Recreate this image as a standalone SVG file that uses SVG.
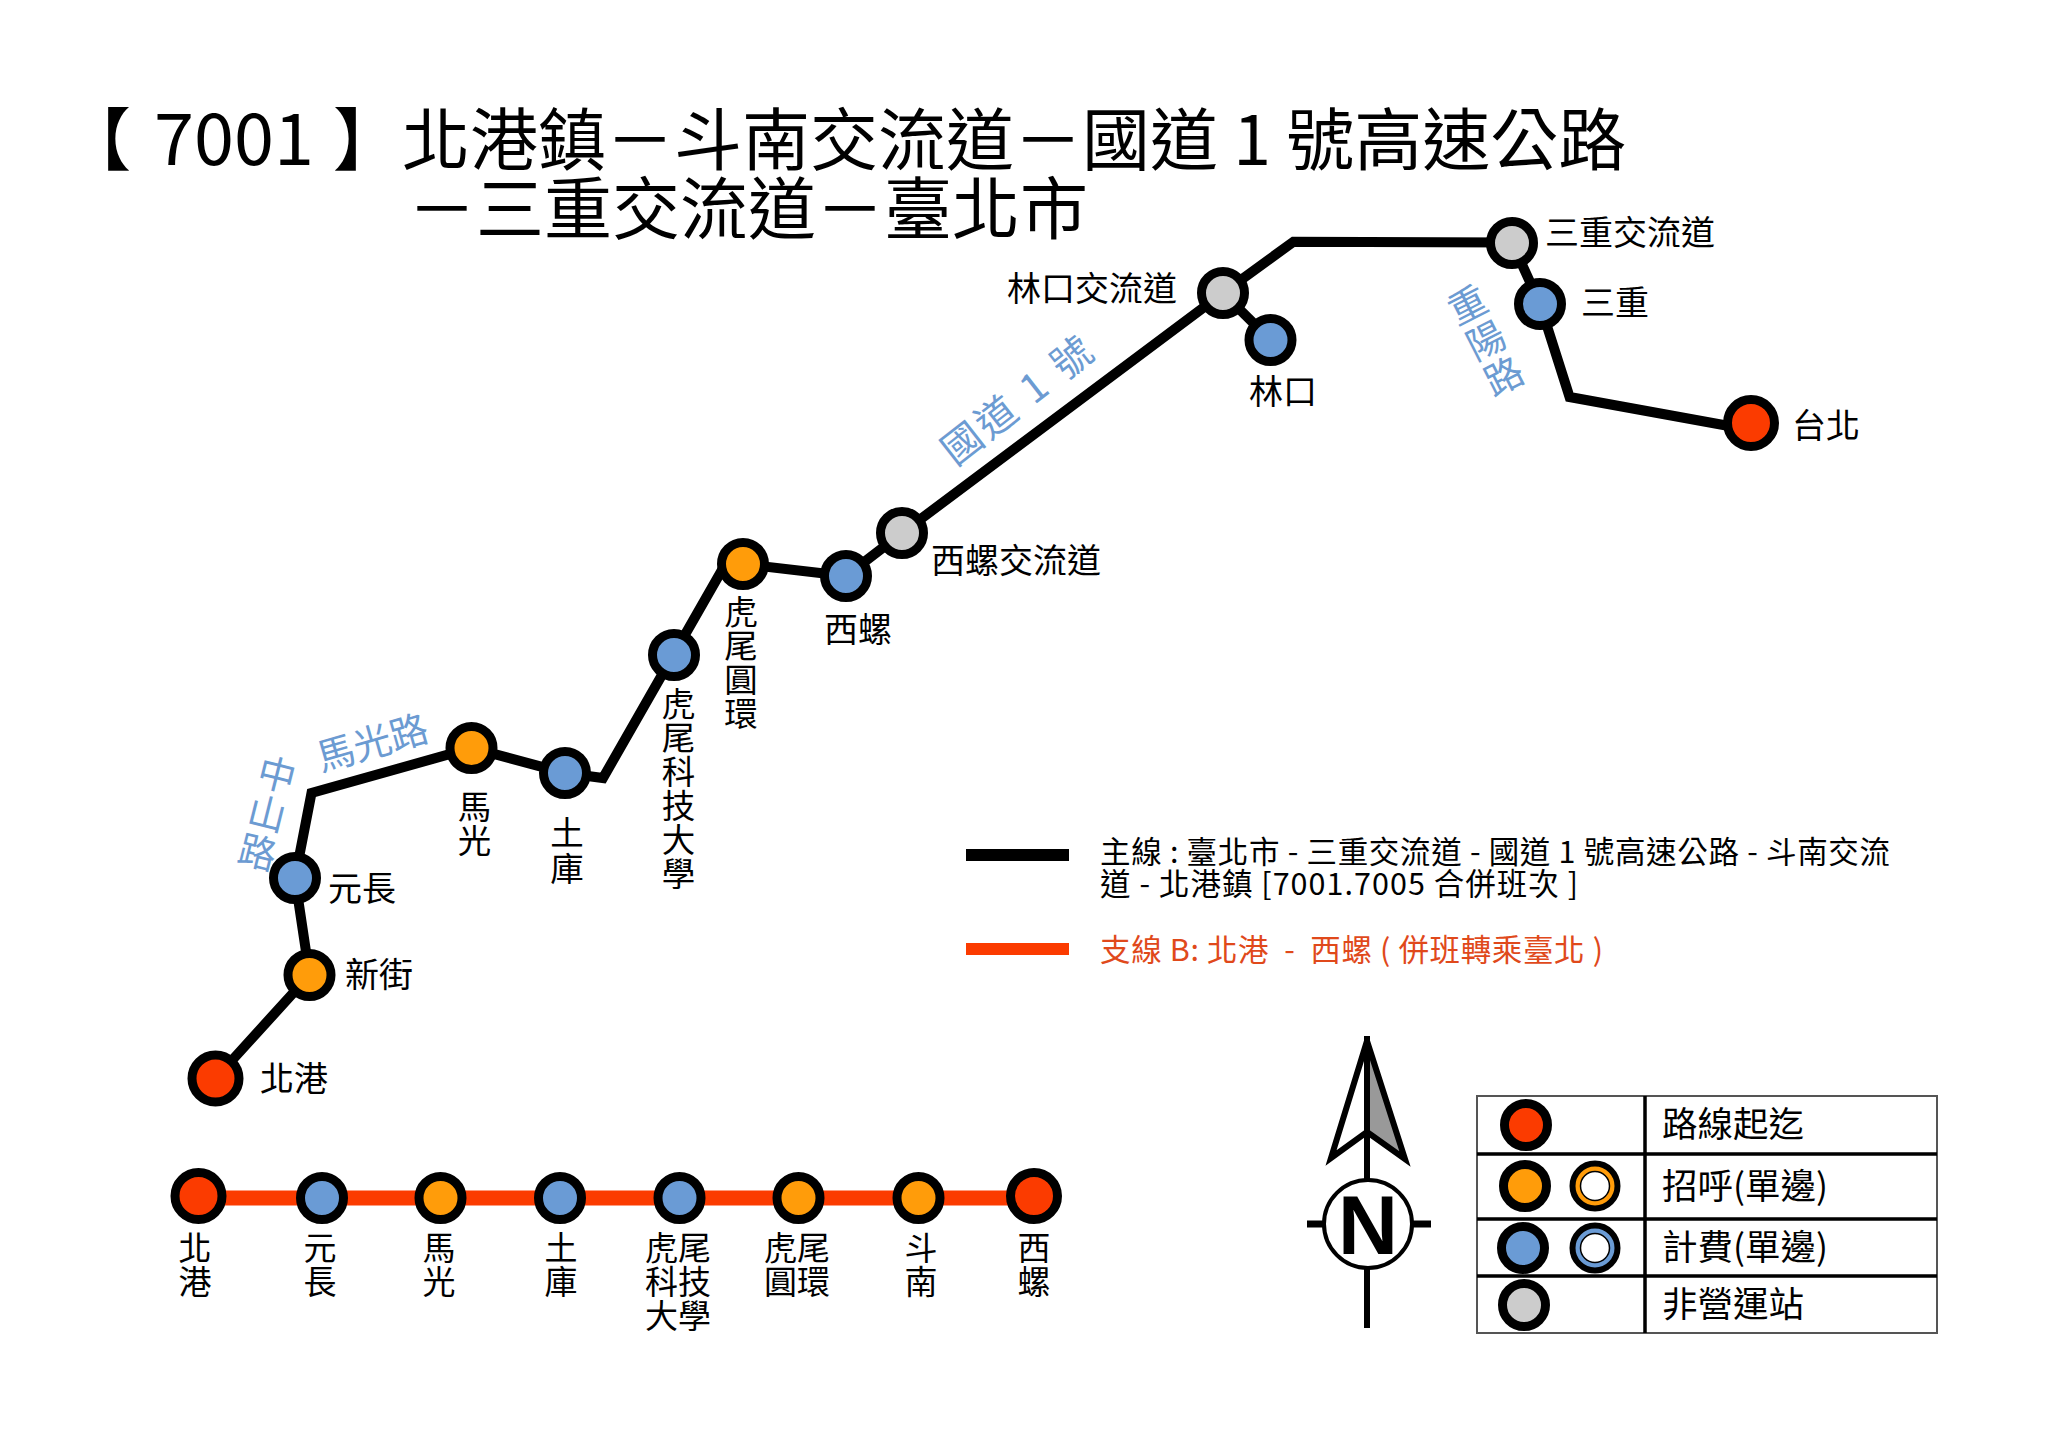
<svg xmlns="http://www.w3.org/2000/svg" width="2048" height="1448" viewBox="0 0 2048 1448">
<style>
text{font-family:"Noto Sans CJK TC","Noto Sans",sans-serif;fill:#000}
.t{font-size:68px}
.l{font-size:34px}
.v{font-size:33.5px;writing-mode:vertical-rl;letter-spacing:.5px}
.b{font-size:33px;text-anchor:middle}
.k{font-size:35.5px}
.n{font-size:30.5px;white-space:pre}
.o{fill:#E0491B}
.r{font-size:38px;fill:#6C9BD2;text-anchor:middle}
.rv{font-size:38px;fill:#6C9BD2;writing-mode:vertical-rl;text-anchor:middle;letter-spacing:2px}
.c{stroke:#000;stroke-width:9}
.e{stroke:#000;stroke-width:6}
.red{fill:#FB3B00}.org{fill:#FF9C0A}.blu{fill:#6A9BD5}.gry{fill:#CCCCCC}
.main{fill:none;stroke:#000;stroke-width:10;stroke-linejoin:miter}
.in{fill:#fff;stroke:#000;stroke-width:1.5}
</style>
<rect width="2048" height="1448" fill="#fff"/>
<g id="title">
<text class="t" x="63" y="165" style="font-weight:500">【</text>
<text class="t" x="154" y="165" style="font-size:72px">7001</text>
<text class="t" x="333" y="165" style="font-weight:500">】</text>
<text class="t" x="402" y="165">北港鎮－斗南交流道－國道 1 號高速公路</text>
<text class="t" x="408" y="234">－三重交流道－臺北市</text>
</g>
<g id="connectors">
<path class="main" d="M215.5 1078.5L309.5 975L295 878L311.5 793L471.5 748L565 773L603 778L726 563L743 564L846 576L902 533L1223 293L1293.5 241.7L1512 242.5L1540 304L1569.6 397L1751 430"/>
<path class="main" d="M1223 293L1270.5 340"/>
<path id="branch-line" fill="none" stroke="#FB3B00" stroke-width="15" d="M198 1198H1034"/>
</g>
<g id="road-labels">
<text class="r" transform="translate(376 756) rotate(-16)">馬光路</text>
<text class="rv" transform="translate(267 814) rotate(14)">中山路</text>
<text class="r" transform="translate(1027 411) rotate(-38)" style="font-size:40px;letter-spacing:3px;word-spacing:2px">國道 1 號</text>
<text class="rv" transform="translate(1486 341) rotate(-27)">重陽路</text>
</g>
<g id="n-beigang"><circle class="c red" cx="215.5" cy="1078.5" r="23.5"/><text class="l" x="260" y="1091">北港</text></g>
<g id="n-xinjie"><circle class="c org" cx="309.5" cy="975" r="21.5"/><text class="l" x="345" y="987">新街</text></g>
<g id="n-yuanchang"><circle class="c blu" cx="295" cy="878" r="21.5"/><text class="l" x="328" y="901">元長</text></g>
<g id="n-maguang"><circle class="c org" cx="471.5" cy="748" r="21.5"/><text class="v" x="474.5" y="790">馬光</text></g>
<g id="n-tuku"><circle class="c blu" cx="565" cy="773" r="21.5"/><text class="v" x="567" y="816" style="letter-spacing:2px">土庫</text></g>
<g id="n-kedah"><circle class="c blu" cx="674" cy="655" r="21.5"/><text class="v" x="678.5" y="687">虎尾科技大學</text></g>
<g id="n-huanyuan"><circle class="c org" cx="743" cy="564" r="21.5"/><text class="v" x="741" y="595">虎尾圓環</text></g>
<g id="n-xiluo"><circle class="c blu" cx="846" cy="576" r="21.5"/><text class="l" x="824" y="642">西螺</text></g>
<g id="n-xiluo-ic"><circle class="c gry" cx="902" cy="533" r="21.5"/><text class="l" x="931" y="573">西螺交流道</text></g>
<g id="n-linkou-ic"><circle class="c gry" cx="1223" cy="293" r="21.5"/><text class="l" x="1007" y="301">林口交流道</text></g>
<g id="n-linkou"><circle class="c blu" cx="1270.5" cy="340" r="21.5"/><text class="l" x="1249" y="404">林口</text></g>
<g id="n-sanchong-ic"><circle class="c gry" cx="1512" cy="243" r="21.5"/><text class="l" x="1545" y="245">三重交流道</text></g>
<g id="n-sanchong"><circle class="c blu" cx="1540" cy="304" r="21.5"/><text class="l" x="1581" y="315">三重</text></g>
<g id="n-taipei"><circle class="c red" cx="1751" cy="423" r="23.5"/><text class="l" x="1792" y="438">台北</text></g>
<g id="branch-nodes">
<g id="b1"><circle class="c red" cx="198.5" cy="1196" r="23.5"/><text class="b" x="195" y="1260">北<tspan x="195" dy="34">港</tspan></text></g>
<g id="b2"><circle class="c blu" cx="322" cy="1198" r="21.5"/><text class="b" x="320" y="1260">元<tspan x="320" dy="34">長</tspan></text></g>
<g id="b3"><circle class="c org" cx="440.5" cy="1198" r="21.5"/><text class="b" x="439" y="1260">馬<tspan x="439" dy="34">光</tspan></text></g>
<g id="b4"><circle class="c blu" cx="560" cy="1198" r="21.5"/><text class="b" x="561" y="1260">土<tspan x="561" dy="34">庫</tspan></text></g>
<g id="b5"><circle class="c blu" cx="679.5" cy="1198" r="21.5"/><text class="b" x="678" y="1260">虎尾<tspan x="678" dy="34">科技</tspan><tspan x="678" dy="34">大學</tspan></text></g>
<g id="b6"><circle class="c org" cx="798.5" cy="1198" r="21.5"/><text class="b" x="797" y="1260">虎尾<tspan x="797" dy="34">圓環</tspan></text></g>
<g id="b7"><circle class="c org" cx="918.5" cy="1198" r="21.5"/><text class="b" x="921" y="1260">斗<tspan x="921" dy="34">南</tspan></text></g>
<g id="b8"><circle class="c red" cx="1034" cy="1196" r="23.5"/><text class="b" x="1034" y="1260">西<tspan x="1034" dy="34">螺</tspan></text></g>
</g>
<g id="line-legend">
<rect x="966" y="849" width="103" height="12" fill="#000"/>
<text class="n" x="1100" y="863" textLength="790">主線 : 臺北市 - 三重交流道 - 國道 1 號高速公路 - 斗南交流</text>
<text class="n" x="1100" y="895" textLength="478">道 - 北港鎮 [7001.7005 合併班次 ]</text>
<rect x="966" y="943" width="103" height="12" fill="#FB3B00"/>
<text class="n o" x="1100" y="961" textLength="503">支線 B: 北港  -  西螺 ( 併班轉乘臺北 )</text>
</g>
<g id="north-arrow">
<path d="M1367 1041L1331 1158L1367 1132Z" fill="#fff" stroke="#000" stroke-width="6"/>
<path d="M1367 1041L1405 1159L1367 1132Z" fill="#999" stroke="#000" stroke-width="6"/>
<path d="M1367 1036V1328" stroke="#000" stroke-width="6" fill="none"/>
<path d="M1307 1224H1431" stroke="#000" stroke-width="7" fill="none"/>
<circle cx="1368" cy="1224" r="44" fill="#fff" stroke="#000" stroke-width="4"/>
<text x="1368" y="1254" text-anchor="middle" style="font-family:'Liberation Sans',sans-serif;font-weight:700;font-size:83px">N</text>
</g>
<g id="symbol-table">
<rect x="1477" y="1096" width="460" height="237" fill="#fff" stroke="#555" stroke-width="2"/>
<path d="M1477 1154H1937M1477 1219H1937M1477 1276H1937M1645 1096V1333" stroke="#000" stroke-width="3.5" fill="none"/>
<circle class="c red" cx="1526" cy="1125" r="21.5"/>
<circle class="c org" cx="1525" cy="1186" r="21.5"/>
<circle class="e org" cx="1595" cy="1186" r="22.5"/><circle class="in" cx="1595" cy="1186" r="14.5"/>
<circle class="c blu" cx="1523" cy="1248" r="21.5"/>
<circle class="e blu" cx="1595" cy="1248" r="22.5"/><circle class="in" cx="1595" cy="1248" r="14.5"/>
<circle class="c gry" cx="1524" cy="1305" r="21.5"/>
<text class="k" x="1662" y="1137">路線起迄</text>
<text class="k" x="1662" y="1199">招呼(單邊)</text>
<text class="k" x="1662" y="1260">計費(單邊)</text>
<text class="k" x="1662" y="1317">非營運站</text>
</g>
</svg>
